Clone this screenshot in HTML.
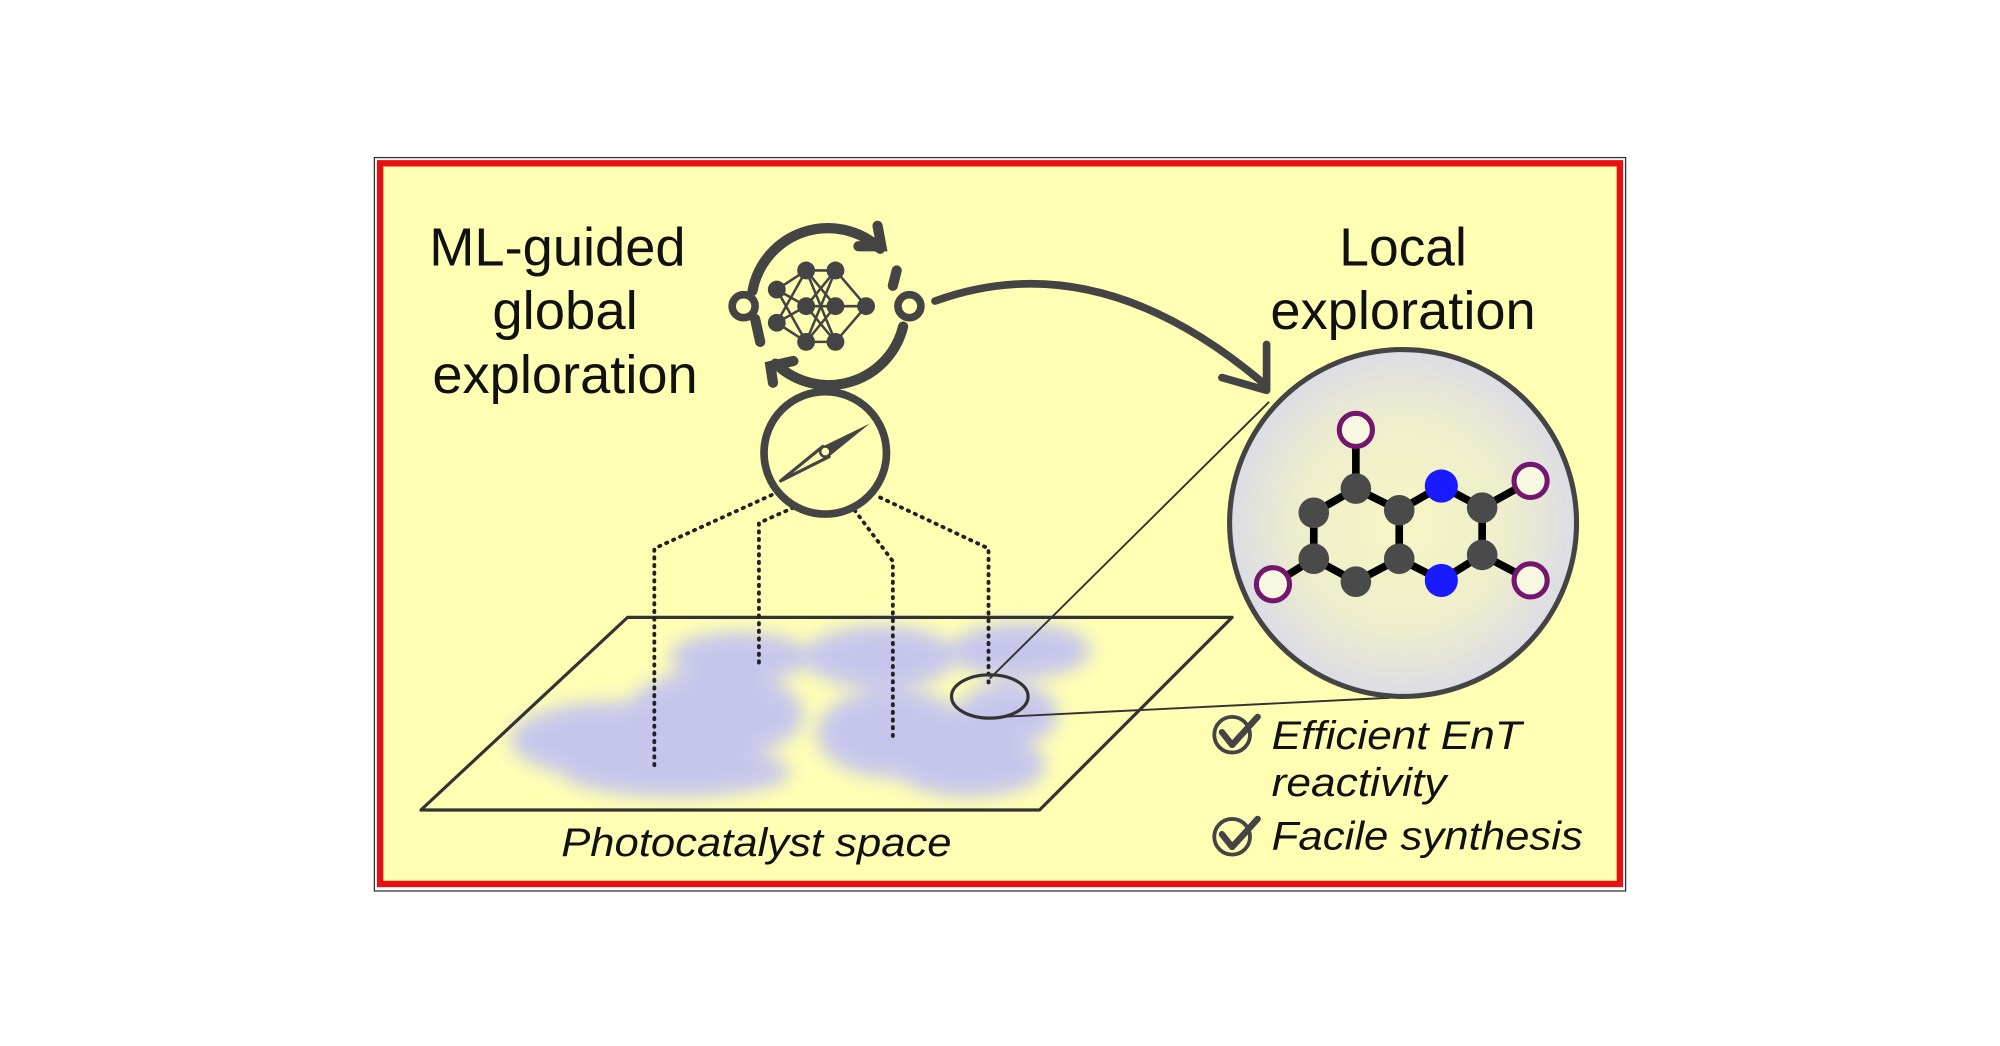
<!DOCTYPE html>
<html><head><style>
html,body{margin:0;padding:0;background:#fff;width:2000px;height:1046px;overflow:hidden}
svg{display:block}
text{font-family:"Liberation Sans",sans-serif;fill:#111}
</style></head><body>
<svg width="2000" height="1046" viewBox="0 0 1568 820" xmlns="http://www.w3.org/2000/svg">
<defs>
<radialGradient id="g" cx="50%" cy="50%" r="50%">
<stop offset="0" stop-color="#f6f6c4"/><stop offset="0.6" stop-color="#eeeecc"/><stop offset="1" stop-color="#dcdce6"/>
</radialGradient>
<filter id="b" x="-20%" y="-20%" width="140%" height="140%"><feGaussianBlur stdDeviation="7"/></filter>
</defs>
<rect x="293.5" y="123.5" width="981" height="575" fill="#fff" stroke="#333" stroke-width="1"/>
<rect x="298" y="128" width="972" height="565" fill="#ffffb4" stroke="#e81010" stroke-width="5"/>
<g font-size="42" text-anchor="middle">
<text x="437" y="208" textLength="201" lengthAdjust="spacingAndGlyphs">ML-guided</text>
<text x="443" y="258" textLength="114" lengthAdjust="spacingAndGlyphs">global</text>
<text x="443" y="308" textLength="208" lengthAdjust="spacingAndGlyphs">exploration</text>
<text x="1100" y="208" textLength="100" lengthAdjust="spacingAndGlyphs">Local</text>
<text x="1100" y="258" textLength="208" lengthAdjust="spacingAndGlyphs">exploration</text>
</g>
<!-- blobs -->
<g fill="#c4c4f0" filter="url(#b)" opacity="0.95">
<ellipse cx="480" cy="580" rx="80" ry="30"/>
<ellipse cx="560" cy="560" rx="70" ry="35"/>
<ellipse cx="580" cy="515" rx="55" ry="20"/>
<ellipse cx="690" cy="515" rx="60" ry="25"/>
<ellipse cx="800" cy="510" rx="55" ry="22"/>
<ellipse cx="700" cy="575" rx="60" ry="35"/>
<ellipse cx="760" cy="600" rx="60" ry="25"/>
<ellipse cx="530" cy="605" rx="90" ry="20"/>
<ellipse cx="790" cy="560" rx="40" ry="25"/>
</g>
<path d="M492,484 L966,484 L815,635 L330,635 Z" fill="none" stroke="#333" stroke-width="2.5" stroke-linejoin="round"/>
<!-- dotted lines -->
<g fill="none" stroke="#222" stroke-width="3" stroke-dasharray="1 5" stroke-linecap="round">
<path d="M605,388 L513,430 L513,600"/>
<path d="M622,398 L595,410 L595,520"/>
<path d="M670,400 L700,440 L700,580"/>
<path d="M690,390 L775,430 L775,540"/>
</g>
<!-- zoom lines -->
<line x1="995" y1="315" x2="776" y2="532" stroke="#333" stroke-width="1.5"/>
<line x1="1090" y1="547" x2="785" y2="562" stroke="#333" stroke-width="1.5"/>
<ellipse cx="776" cy="546" rx="30" ry="17" fill="none" stroke="#333" stroke-width="2.5"/>
<!-- big circle -->
<circle cx="1100" cy="410" r="136" fill="url(#g)" stroke="#444" stroke-width="4"/>
<!-- molecule -->
<g stroke="#000" stroke-width="6">
<line x1="1063" y1="383" x2="1063" y2="340"/>
<line x1="1063" y1="383" x2="1030" y2="402"/><line x1="1030" y1="402" x2="1030" y2="438"/>
<line x1="1030" y1="438" x2="1063" y2="456"/><line x1="1063" y1="456" x2="1097" y2="438"/>
<line x1="1097" y1="438" x2="1097" y2="400"/><line x1="1097" y1="400" x2="1063" y2="383"/>
<line x1="1097" y1="400" x2="1130" y2="381"/><line x1="1130" y1="381" x2="1162" y2="398"/>
<line x1="1162" y1="398" x2="1162" y2="435"/><line x1="1162" y1="435" x2="1130" y2="455"/>
<line x1="1130" y1="455" x2="1097" y2="438"/>
<line x1="1162" y1="398" x2="1200" y2="377"/><line x1="1162" y1="435" x2="1200" y2="455"/>
<line x1="1030" y1="438" x2="998" y2="458"/>
</g>
<g fill="#4a4a4a">
<circle cx="1063" cy="383" r="12"/><circle cx="1030" cy="402" r="12"/><circle cx="1030" cy="438" r="12"/>
<circle cx="1063" cy="456" r="12"/><circle cx="1097" cy="438" r="12"/><circle cx="1097" cy="400" r="12"/>
<circle cx="1162" cy="398" r="12"/><circle cx="1162" cy="435" r="12"/>
</g>
<circle cx="1130" cy="381" r="13" fill="#1a1aff"/><circle cx="1130" cy="455" r="13" fill="#1a1aff"/>
<g fill="#f8f8e0" stroke="#73166e" stroke-width="4">
<circle cx="1063" cy="337" r="13"/><circle cx="1200" cy="377" r="13"/>
<circle cx="1200" cy="455" r="13"/><circle cx="998" cy="458" r="13"/>
</g>
<!-- curved arrow -->
<path d="M733,236 Q860,190 990,300" fill="none" stroke="#444" stroke-width="6" stroke-linecap="round"/>
<path d="M958,296 L993,306 L993,270" fill="none" stroke="#444" stroke-width="6" stroke-linecap="round" stroke-linejoin="round"/>
<!-- cycle icon -->
<g fill="none" stroke="#444" stroke-width="8" stroke-linecap="round">
<path d="M590,228 A60,60 0 0 1 690,195"/>
<path d="M673,193 L691,193 L688,177"/>
<path d="M708,256 A60,60 0 0 1 608,285"/>
<path d="M622,283 L604,287 L606,300"/>
<path d="M592,250 L596,268"/>
<path d="M700,224 L703,212"/>
</g>
<circle cx="583" cy="240" r="9" fill="#ffffb4" stroke="#444" stroke-width="6"/>
<circle cx="713" cy="240" r="9" fill="#ffffb4" stroke="#444" stroke-width="6"/>
<!-- NN -->
<g stroke="#444" stroke-width="2" fill="none">
<path d="M609,227 L632,212 L655,212 L679,240 L655,268 L632,268 L609,253 M609,227 L632,240 L655,212 M609,227 L632,268 M609,253 L632,212 M609,253 L632,240 M632,212 L655,240 M632,212 L655,268 M632,240 L655,212 M632,240 L655,268 M632,268 L655,212 M632,268 L655,240 M655,240 L679,240 M632,240 L655,240"/>
</g>
<g fill="#444">
<circle cx="609" cy="227" r="7"/><circle cx="609" cy="253" r="7"/>
<circle cx="632" cy="212" r="7"/><circle cx="632" cy="240" r="7"/><circle cx="632" cy="268" r="7"/>
<circle cx="655" cy="212" r="7"/><circle cx="655" cy="240" r="7"/><circle cx="655" cy="268" r="7"/>
<circle cx="679" cy="240" r="7"/>
</g>
<!-- compass -->
<circle cx="647" cy="355" r="48" fill="none" stroke="#444" stroke-width="6"/>
<path d="M612,377 L645,350 L650,358 Z" fill="none" stroke="#444" stroke-width="2.5" stroke-linejoin="round"/>
<path d="M682,332 L645,350 L650,358 Z" fill="#444"/>
<circle cx="647" cy="354" r="4" fill="#ffffb4" stroke="#444" stroke-width="2"/>
<!-- labels -->
<g font-size="31" font-style="italic">
<text x="440" y="671" textLength="306" lengthAdjust="spacingAndGlyphs">Photocatalyst space</text>
<text x="997" y="587" textLength="196" lengthAdjust="spacingAndGlyphs">Efficient EnT</text>
<text x="997" y="624" textLength="137" lengthAdjust="spacingAndGlyphs">reactivity</text>
<text x="997" y="666" textLength="244" lengthAdjust="spacingAndGlyphs">Facile synthesis</text>
</g>
<g fill="none" stroke="#444" stroke-width="3">
<circle cx="966" cy="576" r="14"/><circle cx="966" cy="656" r="14"/>
</g>
<g fill="none" stroke="#444" stroke-width="5" stroke-linecap="round" stroke-linejoin="round">
<path d="M958,574 L966,584 L986,562"/><path d="M958,654 L966,664 L986,642"/>
</g>
</svg>
</body></html>
